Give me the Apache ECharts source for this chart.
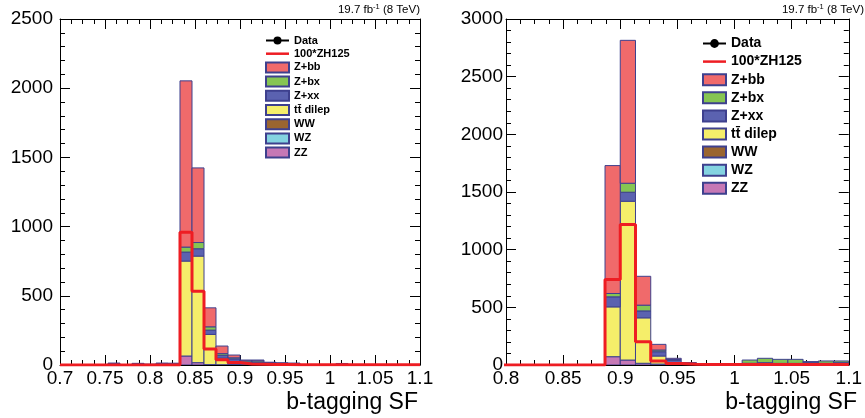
<!DOCTYPE html>
<html><head><meta charset="utf-8">
<script src="https://cdn.jsdelivr.net/npm/echarts@6/dist/echarts.min.js"></script>
<style>html,body{margin:0;padding:0;background:#fff}#c{width:865px;height:418px}</style>
</head><body><div id="c"></div>
<script>
// Histogram binning (30 bins of equal width from 0.7 to 1.1)
const binLow = 0.7, binHigh = 1.1, binCount = 30;

const seriesNames = ['Z+bb', 'Z+bx', 'Z+xx', 'tt\u0304 dilep', 'WW', 'WZ', 'ZZ'];
const seriesColors = ['#f06a6b', '#86c552', '#5b62b0', '#f5ee6a', '#9a6530', '#84d3e1', '#c678b5'];

// ---------- Left panel values (per bin) ----------
const leftZbb = [0,0,0,0,4,0,4,2,4,5, 1201,539,137,55,20,6,6,4,4,4, 0,0,0,3,0,0,0,0,0,0];
const leftZbx = [0,0,0,0,0,0,0,0,2,0, 36,45,24,12,8,10,10,2,0,0, 0,0,0,0,0,0,0,0,0,0];
const leftZxx = [0,0,0,0,10,0,8,4,8,8, 65,53,31,20,20,14,14,14,12,10, 0,0,0,8,0,0,0,0,0,0];
const leftTt  = [0,0,0,0,0,0,0,0,0,0, 686,770,218,48,20,6,6,0,0,0, 0,0,0,0,0,0,0,0,0,0];
const leftWW  = [0,0,0,0,0,0,0,0,0,0, 0,0,0,0,0,0,0,0,0,0, 0,0,0,0,0,0,0,0,0,0];
const leftWZ  = [0,0,0,0,0,0,0,0,0,0, 0,0,0,0,0,0,0,0,0,0, 0,0,0,0,0,0,0,0,0,0];
const leftZZ  = [0,0,0,0,0,0,0,0,0,0, 65,17,3,2,4,0,0,0,0,0, 0,0,0,0,0,0,0,0,0,0];
const leftSignal = [0,0,0,0,0,0,0,0,0,0, 960,533,116,38,18,8,6,4,3,2, 1,1,1,1,1,1,1,1,1,1];

// ---------- Right panel values (per bin) ----------
const rightZbb = [0,0,0,0,0,0,0,0,0,0, 0,0,0,0,1109,1239,250,49,10,4, 0,0,0,0,0,0,0,0,0,0];
const rightZbx = [0,0,0,0,0,0,0,0,0,0, 0,0,0,0,29,78,50,15,8,4, 0,0,0,28,38,35,35,5,20,15];
const rightZxx = [0,0,0,0,0,0,0,0,0,0, 0,0,0,0,87,78,60,37,25,12, 0,0,0,10,12,8,8,20,10,15];
const rightTt  = [0,0,0,0,0,0,0,0,0,0, 0,0,0,0,432,1377,394,70,15,0, 0,0,0,5,8,6,6,4,5,5];
const rightWW  = [0,0,0,0,0,0,0,0,0,0, 0,0,0,0,0,0,0,0,0,0, 0,0,0,0,0,0,0,0,0,0];
const rightWZ  = [0,0,0,0,0,0,0,0,0,0, 0,0,0,0,0,0,0,0,0,0, 0,0,0,0,0,0,0,0,0,0];
const rightZZ  = [0,0,0,0,0,0,0,0,0,0, 0,0,0,0,72,43,15,8,0,0, 0,0,0,0,0,0,0,0,0,0];
const rightSignal = [0,0,0,0,0,0,0,0,0,0, 0,0,0,0,741,1219,202,35,12,6, 4,4,4,4,4,4,4,4,4,4];

const xTicksLeft = {min: 0.7, max: 1.1, interval: 0.05};
const xTicksRight = {min: 0.8, max: 1.1, interval: 0.05};
const yTicksLeft = {min: 0, max: 2500, interval: 500};
const yTicksRight = {min: 0, max: 3000, interval: 500};

const edges = [];
for (let i = 0; i <= binCount; i++) edges.push(+(binLow + (binHigh - binLow) * i / binCount).toFixed(6));

const FONT = '"Liberation Sans", Arial, Helvetica, sans-serif';
const OUTLINE = '#3e408e';

function stackSeries(stackArrays, gridIdx) {
  const out = [];
  const base = new Array(binCount).fill(0);
  for (let k = stackArrays.length - 1; k >= 0; k--) {
    const vals = stackArrays[k];
    const data = [];
    for (let i = 0; i < binCount; i++) {
      if (vals[i] > 0) data.push([edges[i], edges[i + 1], base[i], base[i] + vals[i]]);
      base[i] += vals[i];
    }
    const color = seriesColors[k];
    out.push({
      name: seriesNames[k], type: 'custom',
      xAxisIndex: gridIdx * 2, yAxisIndex: gridIdx * 2,
      clip: true, z: 2,
      itemStyle: {color: color, borderColor: OUTLINE, borderWidth: 1},
      encode: {x: [0, 1], y: [2, 3]},
      data: data,
      renderItem: function (params, api) {
        const p0 = api.coord([api.value(0), api.value(3)]);
        const p1 = api.coord([api.value(1), api.value(2)]);
        return {type: 'rect',
          shape: {x: p0[0], y: p0[1], width: p1[0] - p0[0], height: p1[1] - p0[1]},
          style: {fill: color, stroke: OUTLINE, lineWidth: 1, opacity: 1}};
      }
    });
  }
  return out;
}

function signalSeries(vals, gridIdx) {
  const data = [];
  for (let i = 0; i < binCount; i++) data.push([edges[i], vals[i]]);
  data.push([edges[binCount], vals[binCount - 1]]);
  return {name: '100*ZH125', type: 'line', step: 'end', symbol: 'none', z: 5,
    xAxisIndex: gridIdx * 2, yAxisIndex: gridIdx * 2,
    color: '#ee1d23', itemStyle: {color: '#ee1d23'}, lineStyle: {color: '#ee1d23', width: 3}, data: data};
}

function dataSeries(gridIdx) {
  return {name: 'Data', type: 'line', symbol: 'circle', symbolSize: 7,
    xAxisIndex: gridIdx * 2, yAxisIndex: gridIdx * 2,
    color: '#000', itemStyle: {color: '#000'}, lineStyle: {color: '#000', width: 1}, data: []};
}

function xAxes(gridIdx, ticks) {
  const common = {type: 'value', gridIndex: gridIdx, min: ticks.min, max: ticks.max, interval: ticks.interval,
    axisLine: {show: true, onZero: false, lineStyle: {color: '#000', width: 1}},
    axisTick: {show: true, inside: true, length: 10, lineStyle: {color: '#000'}},
    minorTick: {show: true, splitNumber: 4, length: 5, lineStyle: {color: '#000'}},
    splitLine: {show: false}, minorSplitLine: {show: false}};
  return [
    Object.assign({}, common, {position: 'bottom',
      axisLabel: {show: true, fontSize: 19, color: '#000', fontFamily: FONT, margin: 4, showMinLabel: true, showMaxLabel: true}}),
    Object.assign({}, common, {position: 'top', axisLabel: {show: false}})
  ];
}

function yAxes(gridIdx, ticks, margin) {
  const common = {type: 'value', gridIndex: gridIdx, min: ticks.min, max: ticks.max, interval: ticks.interval,
    axisLine: {show: true, onZero: false, lineStyle: {color: '#000', width: 1}},
    axisTick: {show: true, inside: true, length: 10, lineStyle: {color: '#000'}},
    minorTick: {show: true, splitNumber: 5, length: 5, lineStyle: {color: '#000'}},
    splitLine: {show: false}, minorSplitLine: {show: false}};
  return [
    Object.assign({}, common, {position: 'left',
      axisLabel: {show: true, fontSize: 19, color: '#000', fontFamily: FONT, margin: margin,
        formatter: function (v) { return String(Math.round(v)); }}}),
    Object.assign({}, common, {position: 'right', axisLabel: {show: false}})
  ];
}

const legendData = [{name: 'Data'}, {name: '100*ZH125', icon: 'path://M0,0 H46 V5 H0 Z'}]
  .concat(seriesNames.map(n => ({name: n, icon: 'rect'})));

const option = {
  animation: false,
  backgroundColor: '#fff',
  grid: [
    {left: 60, top: 19, width: 360, height: 346, containLabel: false},
    {left: 506, top: 19, width: 346, height: 346, containLabel: false}
  ],
  xAxis: xAxes(0, xTicksLeft).concat(xAxes(1, xTicksRight)),
  yAxis: yAxes(0, yTicksLeft, 7).concat(yAxes(1, yTicksRight, 3)),
  legend: [
    {orient: 'vertical', left: 265, top: 35, padding: 0, itemWidth: 23, itemHeight: 10, itemGap: 2.2,
      selectedMode: false, data: legendData, symbolKeepAspect: true,
      textStyle: {fontSize: 11, fontWeight: 'bold', color: '#000', fontFamily: FONT, lineHeight: 10}},
    {orient: 'vertical', left: 702, top: 36.5, padding: 0, itemWidth: 23, itemHeight: 11, itemGap: 4.1,
      selectedMode: false, data: legendData, symbolKeepAspect: true,
      textStyle: {fontSize: 14, fontWeight: 'bold', color: '#000', fontFamily: FONT, lineHeight: 11}}
  ],
  graphic: [
    {type: 'text', x: 418, y: 403, style: {text: 'b-tagging SF', fontSize: 23, fontFamily: FONT, fill: '#000', align: 'right', verticalAlign: 'middle'}},
    {type: 'text', x: 857, y: 403, style: {text: 'b-tagging SF', fontSize: 23, fontFamily: FONT, fill: '#000', align: 'right', verticalAlign: 'middle'}},
    {type: 'text', x: 420, y: 10, style: {text: '19.7 fb{s|-1} (8 TeV)', fontSize: 11.5, fontFamily: FONT, fill: '#000', align: 'right', verticalAlign: 'middle',
      rich: {s: {fontSize: 7.5, fontFamily: FONT, fill: '#000', padding: [0, 0, 6, 0]}}}},
    {type: 'text', x: 864, y: 10, style: {text: '19.7 fb{s|-1} (8 TeV)', fontSize: 11.5, fontFamily: FONT, fill: '#000', align: 'right', verticalAlign: 'middle',
      rich: {s: {fontSize: 7.5, fontFamily: FONT, fill: '#000', padding: [0, 0, 6, 0]}}}}
  ],
  series: [].concat(
    stackSeries([leftZbb, leftZbx, leftZxx, leftTt, leftWW, leftWZ, leftZZ], 0),
    [signalSeries(leftSignal, 0), dataSeries(0)],
    stackSeries([rightZbb, rightZbx, rightZxx, rightTt, rightWW, rightWZ, rightZZ], 1),
    [signalSeries(rightSignal, 1), dataSeries(1)]
  )
};

const chart = echarts.init(document.getElementById('c'), null, {renderer: 'canvas'});
chart.setOption(option);
</script>
</body></html>
